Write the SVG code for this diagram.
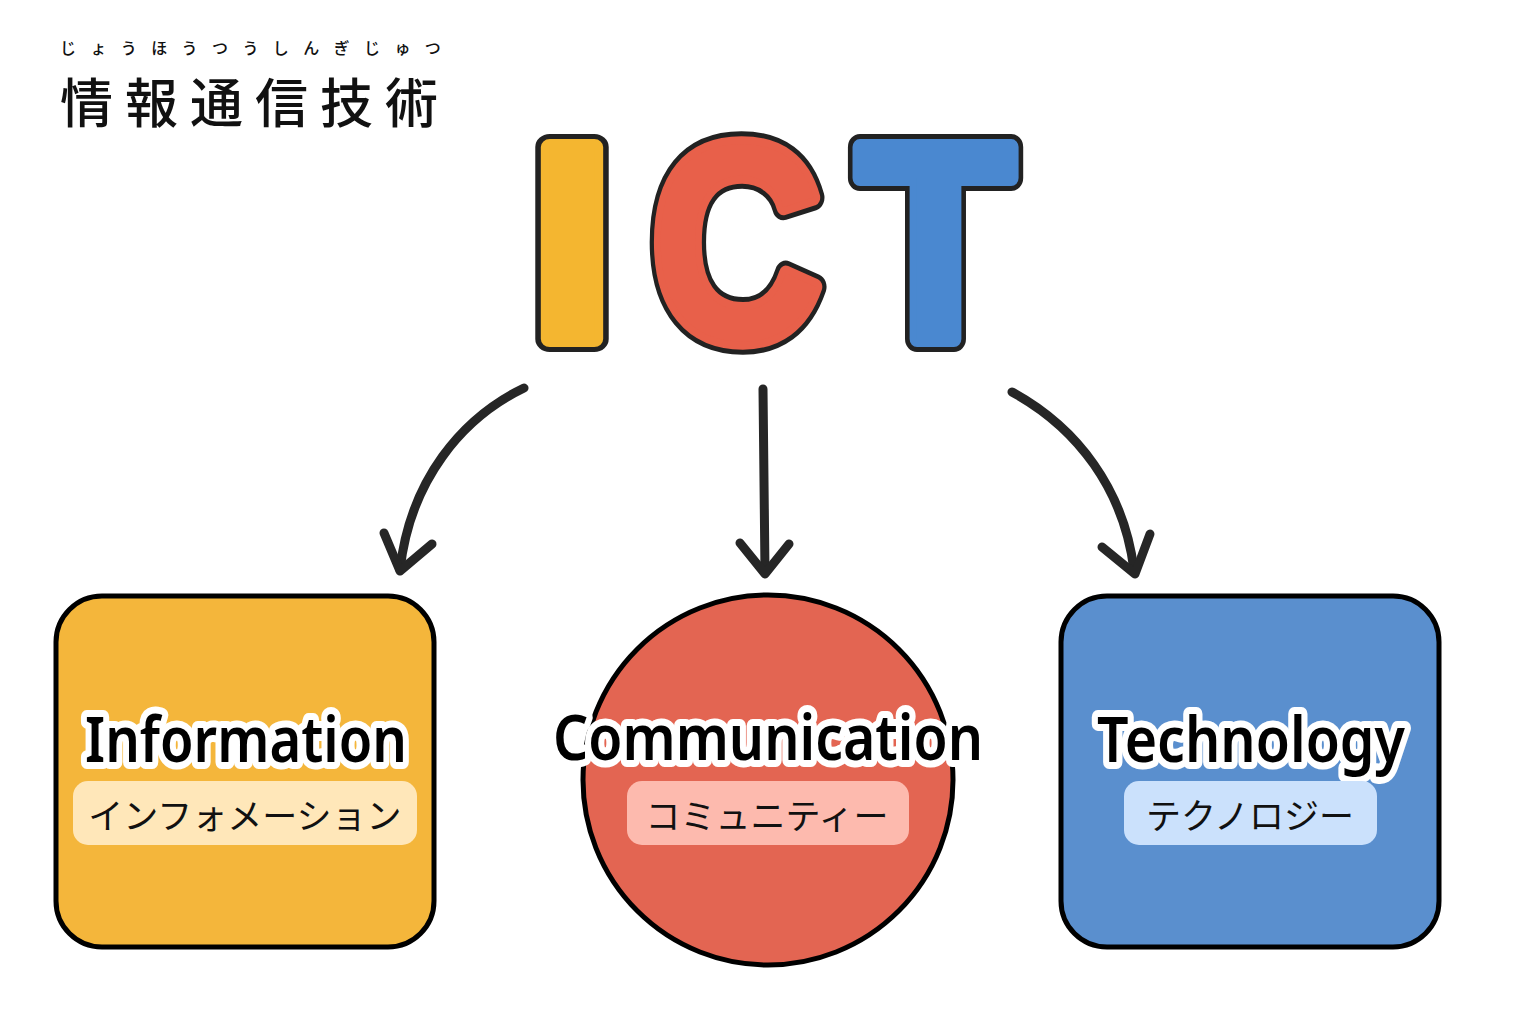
<svg xmlns="http://www.w3.org/2000/svg" width="1536" height="1024" viewBox="0 0 1536 1024">
<style>
.furi{font-family:"Noto Sans CJK JP","Noto Sans",sans-serif;font-size:16px;font-weight:500;fill:#111;letter-spacing:14.4px}
.title{font-family:"Noto Sans CJK JP","Noto Sans",sans-serif;font-size:53px;font-weight:500;fill:#111;letter-spacing:12px}
.big{font-family:"Liberation Sans","DejaVu Sans",sans-serif;font-weight:bold;font-size:279px;stroke-linejoin:round;paint-order:stroke}
.out{fill:#222;stroke:#222;stroke-width:26}
.node{stroke:#000;stroke-width:5}
.en{font-family:"Noto Sans","Open Sans",sans-serif;font-weight:600;font-size:64px;fill:#000;stroke:#fff;stroke-width:14;stroke-linejoin:round;paint-order:stroke}
.jp{font-family:"Noto Sans CJK JP",sans-serif;font-size:35px;fill:#111;text-anchor:middle}
.arrow{fill:none;stroke:#262626;stroke-width:9;stroke-linecap:round;stroke-linejoin:round}
</style>
<rect width="1536" height="1024" fill="#fff"/>
<g id="title">
<text class="furi" x="60" y="54">じょうほうつうしんぎじゅつ</text>
<text class="title" x="60" y="123">情報通信技術</text>
</g>
<g id="ict">
<text class="big out" x="529" y="339" textLength="86" lengthAdjust="spacingAndGlyphs">I</text>
<text class="big" x="529" y="339" fill="#F4B630" stroke="#F4B630" stroke-width="16" textLength="86" lengthAdjust="spacingAndGlyphs">I</text>
<text class="big out" x="651" y="339" textLength="171" lengthAdjust="spacingAndGlyphs">C</text>
<text class="big" x="651" y="339" fill="#E8604A" stroke="#E8604A" stroke-width="16" textLength="171" lengthAdjust="spacingAndGlyphs">C</text>
<text class="big out" x="857" y="339" textLength="157" lengthAdjust="spacingAndGlyphs">T</text>
<text class="big" x="857" y="339" fill="#4A88D0" stroke="#4A88D0" stroke-width="16" textLength="157" lengthAdjust="spacingAndGlyphs">T</text>
</g>
<g id="connectors">
<path class="arrow" d="M524,388 C462,418 410,480 400,570"/>
<path class="arrow" d="M384,533 L400,571 L432,544"/>
<path class="arrow" d="M763,389 L765,572"/>
<path class="arrow" d="M740,543 L765,574 L789,544"/>
<path class="arrow" d="M1012,392 C1078,428 1124,490 1134,570"/>
<path class="arrow" d="M1102,547 L1135,574 L1150,534"/>
</g>
<g id="information">
<rect class="node" x="56" y="596" width="378" height="351" rx="46" fill="#F4B63B"/>
<text class="en" x="85" y="762" textLength="322" lengthAdjust="spacingAndGlyphs">Information</text>
<rect x="73" y="781" width="344" height="64" rx="15" fill="#FFE7B9"/>
<text class="jp" x="245" y="829">インフォメーション</text>
</g>
<g id="communication">
<circle class="node" cx="768" cy="780" r="185" fill="#E36552"/>
<text class="en" x="553" y="760" textLength="430" lengthAdjust="spacingAndGlyphs">Communication</text>
<rect x="627" y="781" width="282" height="64" rx="15" fill="#FDBAAE"/>
<text class="jp" x="767" y="829">コミュニティー</text>
</g>
<g id="technology">
<rect class="node" x="1061" y="596" width="378" height="351" rx="46" fill="#5A8FCE"/>
<text class="en" x="1097" y="762" textLength="308" lengthAdjust="spacingAndGlyphs">Technology</text>
<rect x="1124" y="781" width="253" height="64" rx="15" fill="#CBE1FC"/>
<text class="jp" x="1250" y="829">テクノロジー</text>
</g>
</svg>
